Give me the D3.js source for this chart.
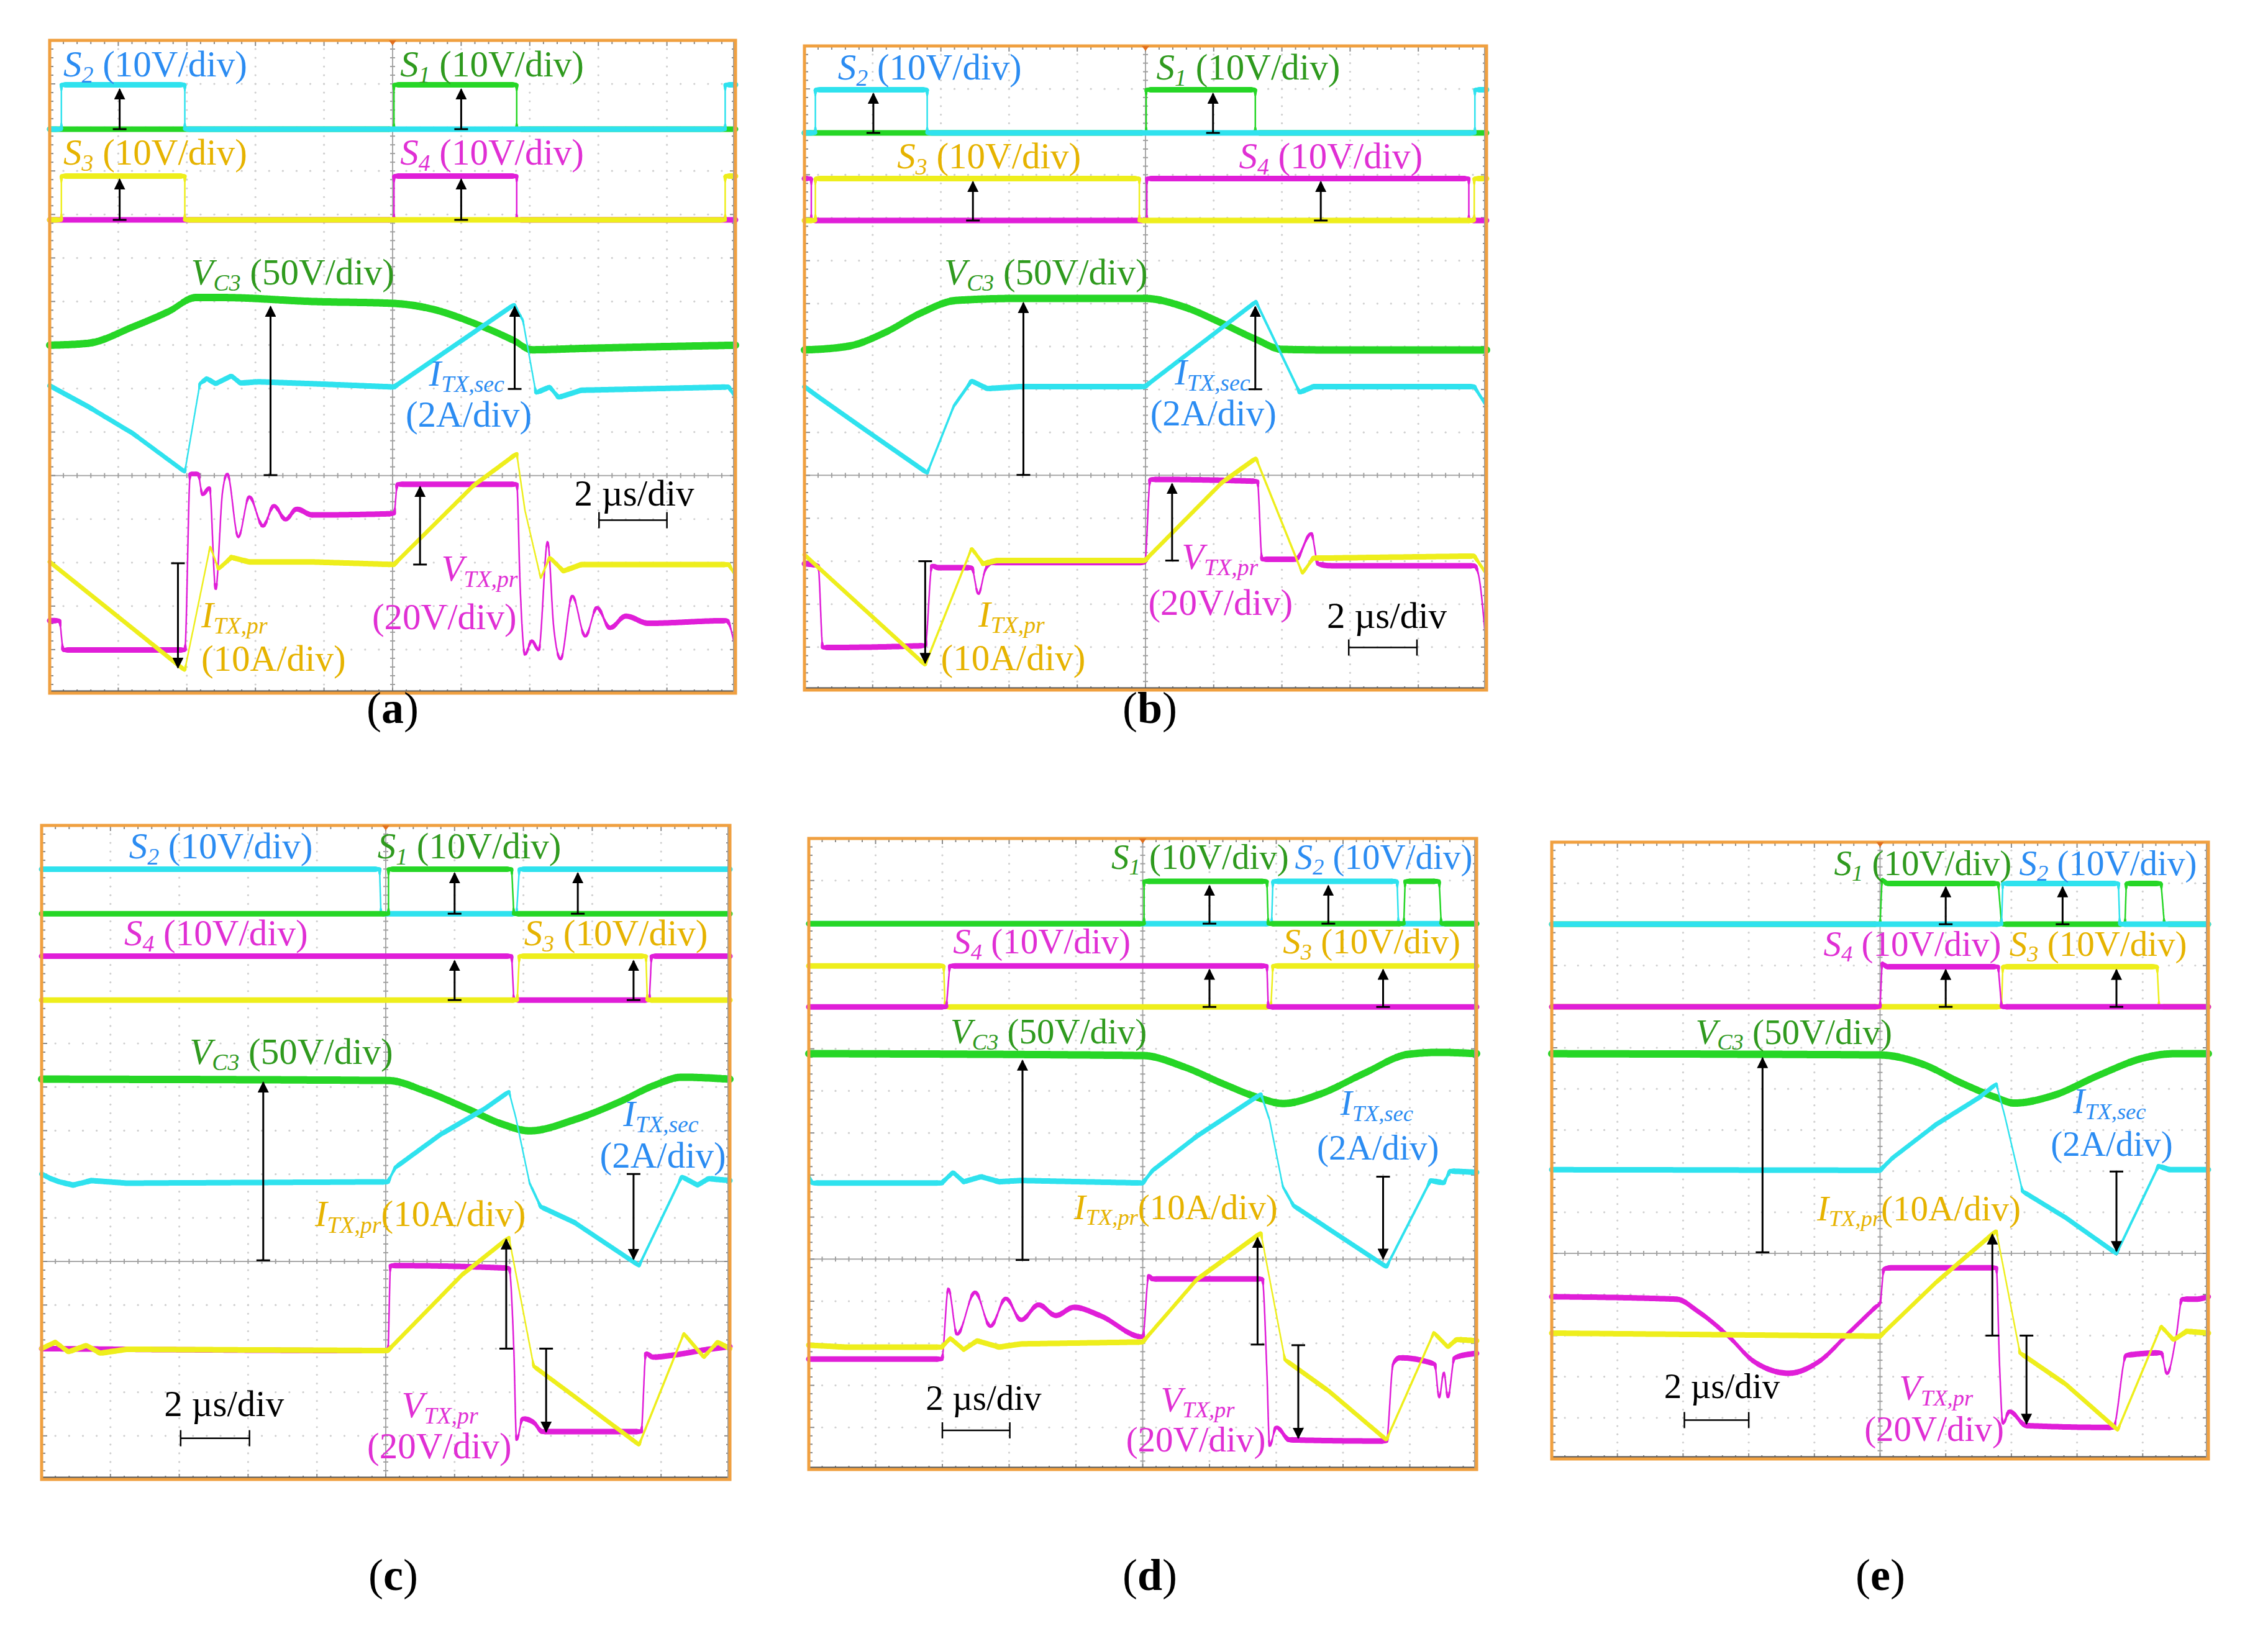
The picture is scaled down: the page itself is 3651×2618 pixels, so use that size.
<!DOCTYPE html>
<html><head><meta charset="utf-8">
<script src="https://cdn.jsdelivr.net/npm/d3@7"></script>
<style>html,body{margin:0;padding:0;background:#fff}</style>
</head><body><svg id="chart"></svg>
<script>
// ---------------- DATA (x: time in divisions 0..10, y: % of screen height from top) ----------------
// Panel (a)
const a_S2 = [[0,13.6],[0.17,13.6],[0.17,6.8],[1.97,6.8],[1.97,13.6],[9.85,13.6],[9.85,6.8],[10,6.8]];
const a_S1 = [[0,13.6],[5.02,13.6],[5.02,6.8],[6.81,6.8],[6.81,13.6],[10,13.6]];
const a_S3 = [[0,27.5],[0.17,27.5],[0.17,20.8],[1.97,20.8],[1.97,27.5],[9.85,27.5],[9.85,20.8],[10,20.8]];
const a_S4 = [[0,27.5],[5.02,27.5],[5.02,20.8],[6.81,20.8],[6.81,27.5],[10,27.5]];
const a_VC3 = [[0,46.7],[0.56,46.4],[1.21,43.9],[1.74,41.5],[2.13,39.4],[2.52,39.4],[3.83,40.0],[5.02,40.3],[5.59,41.2],[6.18,43.3],[6.77,46.0],[7.03,47.4],[7.75,47.2],[10,46.7]];
const a_ITXsec = [[0,52.9],[0.56,56.1],[1.21,60.2],[1.97,66.1],[2.19,52.6],[2.29,51.8],[2.42,52.6],[2.65,51.4],[2.78,52.5],[3.04,52.3],[3.83,52.6],[5.02,53.1],[6.77,40.5],[6.90,42.9],[7.09,54.0],[7.29,53.1],[7.42,54.7],[7.75,53.6],[9.90,53.1],[10,54.7]];
const a_VTXpr = [[0,88.9],[0.14,88.9],[0.2,93.4],[1.97,93.4],[2.05,66.4],[2.16,66.4],[2.23,69.6],[2.33,68.5],[2.42,84.1],[2.52,69.2],[2.59,66.4],[2.75,76.1],[2.91,69.9],[3.11,74.4],[3.27,71.3],[3.44,73.4],[3.60,71.8],[3.83,72.7],[5.02,72.5],[5.07,68.0],[6.81,68.0],[6.86,83.7],[6.93,94.1],[7.03,92.0],[7.13,93.4],[7.26,76.8],[7.35,90.0],[7.45,94.8],[7.62,85.1],[7.81,91.3],[7.98,86.9],[8.17,90.0],[8.40,88.2],[8.73,89.3],[9.87,88.9],[10,93.4]];
const a_ITXpr = [[0,79.9],[1.97,96.5],[2.34,77.5],[2.46,81.0],[2.65,79.2],[2.91,79.9],[3.83,79.9],[5.02,80.3],[6.18,68.2],[6.81,63.3],[6.93,72.0],[7.16,82.4],[7.29,79.2],[7.49,81.3],[7.75,80.3],[9.90,80.3],[10,82.0]];
// Panel (b)
const b_S2 = [[0,13.5],[0.16,13.5],[0.16,6.8],[1.80,6.8],[1.80,13.5],[9.83,13.5],[9.83,6.8],[10,6.8]];
const b_S1 = [[0,13.5],[5.01,13.5],[5.01,6.8],[6.61,6.8],[6.61,13.5],[10,13.5]];
const b_S3 = [[0,27.1],[0.16,27.1],[0.16,20.6],[4.91,20.6],[4.91,27.1],[9.82,27.1],[9.82,20.6],[10,20.6]];
const b_S4 = [[0,20.6],[0.1,20.6],[0.1,27.1],[5.02,27.1],[5.02,20.6],[9.74,20.6],[9.74,27.1],[10,27.1]];
const b_VC3 = [[0,47.2],[0.65,46.6],[1.18,44.5],[1.70,41.5],[2.23,39.5],[3.14,39.2],[4.99,39.2],[5.56,40.5],[6.09,42.9],[6.61,45.5],[7.0,47.1],[7.72,47.2],[10,47.2]];
const b_ITXsec = [[0,52.9],[0.26,54.9],[0.85,59.3],[1.80,66.3],[2.19,55.9],[2.45,52.0],[2.68,53.2],[3.14,52.9],[4.99,52.9],[6.62,39.7],[7.26,53.8],[7.46,52.9],[9.82,52.9],[10,55.9]];
const b_VTXpr = [[0,80.4],[0.2,80.7],[0.27,93.4],[1.77,93.1],[1.87,80.7],[1.96,81.0],[2.45,81.0],[2.55,85.1],[2.65,81.4],[2.75,80.2],[4.99,80.2],[5.07,67.3],[6.64,67.6],[6.71,79.7],[7.20,79.7],[7.43,75.7],[7.53,80.4],[7.72,80.7],[9.82,80.7],[9.88,82.0],[10,94.1]];
const b_ITXpr = [[0,79.0],[1.77,96.1],[2.45,78.0],[2.62,80.4],[2.81,79.9],[4.99,79.9],[6.12,67.8],[6.62,64.0],[7.30,81.9],[7.46,79.5],[7.72,79.5],[9.82,79.2],[10,82.0]];
// Panel (c)
const c_S2 = [[0,6.7],[4.91,6.7],[4.93,13.5],[6.90,13.5],[6.94,6.7],[10,6.7]];
const c_S1 = [[0,13.5],[5.04,13.5],[5.04,6.7],[6.83,6.7],[6.86,13.5],[10,13.5]];
const c_S4 = [[0,20.0],[6.83,20.0],[6.86,26.7],[8.83,26.7],[8.86,20.0],[10,20.0]];
const c_S3 = [[0,26.7],[6.91,26.7],[6.94,20.0],[8.78,20.0],[8.80,26.7],[10,26.7]];
const c_VC3 = [[0,38.8],[5.03,39.0],[5.59,40.7],[6.18,43.3],[6.70,45.7],[7.09,46.7],[7.74,45.0],[8.39,42.3],[8.91,39.7],[9.30,38.5],[10,38.8]];
const c_ITXsec = [[0,53.3],[0.13,54.0],[0.26,54.5],[0.46,55.0],[0.72,54.3],[1.24,54.7],[5.03,54.5],[5.14,52.3],[5.79,47.3],[6.44,43.3],[6.79,40.7],[6.89,44.7],[7.09,54.7],[7.25,58.3],[7.74,60.7],[8.68,67.3],[9.30,53.7],[9.53,55.0],[9.69,54.0],[10,54.3]];
const c_VTXpr = [[0,80.0],[5.03,80.3],[5.07,67.3],[6.79,67.7],[6.86,80.0],[6.90,94.0],[6.99,90.7],[7.15,91.3],[7.28,92.7],[8.71,92.7],[8.78,80.7],[8.88,81.3],[9.17,81.0],[9.69,80.1],[10,79.7]];
const c_ITXpr = [[0,80.0],[0.20,79.0],[0.39,80.5],[0.65,79.5],[0.85,80.7],[1.24,80.1],[5.03,80.3],[6.11,68.7],[6.79,63.0],[7.15,82.7],[7.74,87.3],[8.68,94.7],[9.33,77.7],[9.62,81.3],[9.82,79.0],[10,80.0]];
// Panel (d)
const d_S1 = [[0,13.5],[5.02,13.5],[5.02,6.8],[6.86,6.8],[6.88,13.5],[8.91,13.5],[8.93,6.8],[9.44,6.8],[9.47,13.5],[10,13.5]];
const d_S2 = [[0,13.5],[6.93,13.5],[6.95,6.8],[8.81,6.8],[8.83,13.5],[10,13.5]];
const d_S4 = [[0,26.7],[2.06,26.7],[2.11,20.2],[6.86,20.2],[6.88,26.7],[10,26.7]];
const d_S3 = [[0,20.2],[2.02,20.2],[2.04,26.7],[6.92,26.7],[6.95,20.2],[10,20.2]];
const d_VC3 = [[0,34.1],[5.0,34.4],[5.62,36.2],[6.21,38.9],[6.74,41.1],[7.10,42.0],[7.66,40.5],[8.32,37.2],[8.98,34.2],[9.44,33.9],[10,34.1]];
const d_ITXsec = [[0,53.2],[0.05,54.6],[1.99,54.6],[2.16,52.9],[2.32,54.4],[2.58,53.6],[2.85,54.4],[3.18,54.2],[5.0,54.6],[5.15,52.6],[5.81,47.2],[6.47,42.6],[6.77,40.5],[6.90,44.6],[7.10,55.2],[7.26,58.2],[7.79,61.9],[8.65,67.9],[9.31,54.2],[9.51,54.6],[9.60,52.7],[10,52.9]];
const d_VTXpr = [[0,82.5],[1.99,82.5],[2.09,71.3],[2.22,78.6],[2.49,71.9],[2.72,77.3],[2.95,72.9],[3.18,76.3],[3.44,73.9],[3.70,75.6],[3.97,74.3],[4.36,75.6],[5.0,79.0],[5.09,69.3],[5.15,69.8],[6.79,69.8],[6.86,84.6],[6.90,96.3],[7.0,93.3],[7.20,95.3],[8.65,95.5],[8.75,83.3],[8.85,82.3],[9.37,83.3],[9.44,88.6],[9.51,84.6],[9.57,88.6],[9.67,82.3],[10,81.6]];
const d_ITXpr = [[0,80.3],[0.54,80.6],[1.99,80.6],[2.12,79.2],[2.32,81.0],[2.52,79.6],[2.85,80.6],[3.18,80.1],[5.0,79.8],[5.81,69.9],[6.77,62.5],[7.13,82.6],[7.79,87.6],[8.65,95.3],[9.36,78.3],[9.57,80.6],[9.70,79.4],[10,79.6]];
// Panel (e)
const e_S1 = [[0,13.3],[5.0,13.3],[5.03,6.0],[5.1,6.7],[6.8,6.7],[6.85,13.3],[8.73,13.3],[8.75,6.7],[9.28,6.7],[9.33,13.3],[10,13.3]];
const e_S2 = [[0,13.3],[6.85,13.3],[6.87,6.7],[8.63,6.7],[8.65,13.3],[10,13.3]];
const e_S4 = [[0,26.7],[5.0,26.7],[5.03,19.6],[5.1,20.2],[6.8,20.2],[6.85,26.7],[10,26.7]];
const e_S3 = [[0,26.7],[6.85,26.7],[6.87,20.2],[9.22,20.2],[9.25,26.7],[10,26.7]];
const e_VC3 = [[0,34.3],[5.0,34.5],[5.65,36.0],[6.25,39.1],[6.77,41.4],[7.04,42.3],[7.63,41.1],[8.35,37.7],[9.01,35.0],[9.47,34.3],[10,34.3]];
const e_ITXsec = [[0,53.1],[5.0,53.2],[5.19,51.2],[5.85,45.8],[6.51,41.4],[6.77,39.2],[6.90,44.4],[7.17,56.6],[7.83,60.9],[8.60,66.7],[9.24,52.5],[9.41,53.1],[10,53.1]];
const e_VTXpr = [[0,73.7],[1.90,74.1],[2.23,76.1],[2.69,80.1],[3.08,84.2],[3.61,86.1],[4.07,84.2],[4.53,79.5],[4.93,75.4],[5.0,74.7],[5.06,69.2],[5.19,69.0],[6.77,69.0],[6.82,84.8],[6.87,94.3],[6.97,92.3],[7.23,94.6],[8.55,94.9],[8.75,83.2],[9.28,82.8],[9.37,86.2],[9.51,80.1],[9.60,74.1],[9.80,74.1],[10,73.7]];
const e_ITXpr = [[0,79.6],[5.0,80.1],[5.85,71.4],[6.77,63.0],[7.13,82.8],[7.83,87.9],[8.62,95.3],[9.28,78.5],[9.47,80.7],[9.67,79.3],[10,79.6]];

// Annotation text anchors [labelKey, x(div), y(%)]
const a_labels = [['S2',0.20,5.5],['S1',5.11,5.5],['S3',0.20,19.0],['S4',5.11,19.0],['VC3',2.06,37.4],['ITXsec',5.53,52.9],['A2',5.19,59.2],['time',7.65,71.3],['VTXpr',5.71,82.8],['V20',4.70,90.2],['ITXpr',2.21,89.9],['A10',2.21,96.6]];
const b_labels = [['S2',0.49,5.2],['S1',5.16,5.2],['S3',1.36,19.0],['S4',6.37,19.0],['VC3',2.05,37.0],['ITXsec',5.43,52.6],['A2',5.07,58.9],['VTXpr',5.53,81.2],['V20',5.04,88.3],['ITXpr',2.55,90.2],['A10',2.0,96.9],['time',7.66,90.4]];
const c_labels = [['S2',1.27,5.0],['S1',4.88,5.0],['S4',1.2,18.3],['S3',7.01,18.3],['VC3',2.15,36.5],['ITXsec',8.45,46.0],['A2',8.11,52.3],['ITXprFull',3.97,61.3],['VTXpr',5.23,90.5],['V20',4.73,96.8],['time',1.78,90.3]];
const d_labels = [['S1',4.53,4.8],['S2',7.28,4.8],['S4',2.16,18.2],['S3',7.1,18.2],['VC3',2.12,32.5],['ITXsec',7.96,43.8],['A2',7.61,50.9],['ITXprFull',3.97,60.3],['VTXpr',5.27,90.8],['V20',4.75,97.1],['time',1.75,90.6]];
const e_labels = [['S1',4.3,5.3],['S2',7.12,5.3],['S4',4.14,18.4],['S3',6.97,18.4],['VC3',2.19,32.7],['ITXsec',7.94,43.9],['A2',7.6,50.9],['ITXprFull',4.04,61.3],['VTXpr',5.29,90.4],['V20',4.76,97.1],['time',1.71,90.1]];

// Measurement arrows [x(div), yTee(%), yHead(%)]
const a_arrows = [[1.02,13.6,7.5],[6.0,13.6,7.5],[1.02,27.5,21.3],[6.0,27.5,21.3],[3.22,66.6,40.8],[6.78,53.4,40.8],[5.40,80.3,68.4],[1.87,80.1,96.1]];
const b_arrows = [[1.01,13.5,7.4],[5.99,13.5,7.4],[2.47,27.1,21.1],[7.57,27.1,21.1],[3.21,66.6,39.9],[6.61,53.3,40.5],[5.39,79.9,68.0],[1.77,80.0,95.8]];
const c_arrows = [[6.0,13.5,7.3],[7.79,13.5,7.3],[6.0,26.7,20.7],[8.6,26.7,20.7],[3.22,66.5,39.3],[8.6,53.3,66.3],[6.75,80.0,63.3],[7.33,80.0,92.7]];
const d_arrows = [[6.0,13.5,7.5],[7.78,13.5,7.5],[6.0,26.7,20.8],[8.6,26.7,20.8],[3.2,66.8,35.2],[8.6,53.6,66.6],[6.72,80.2,63.3],[7.33,80.3,95.0]];
const e_arrows = [[6.0,13.3,7.3],[7.78,13.3,7.3],[6.0,26.7,20.7],[8.6,26.7,20.7],[3.21,66.5,35.0],[8.6,53.4,66.3],[6.71,80.0,63.6],[7.23,80.0,94.3]];

// Time scale bars [x0(div), x1(div), y(%)]
const a_bar = [8.01,9.0,73.5];
const b_bar = [7.98,8.98,93.4];
const c_bar = [2.02,3.02,93.7];
const d_bar = [2.0,3.01,93.8];
const e_bar = [2.02,3.0,93.7];

const panelNames = ['a','b','c','d','e'];

// ---------------- LAYOUT / STYLE ----------------
const W = 3651, H = 2618;
const LAYOUT = {
  a: {box:[80,65,1184,1116],   cap:[632,1164],  fs:59, order:['S1','S2','S4','S3','VC3','ITXsec','VTXpr','ITXpr']},
  b: {box:[1295,74,2393,1111], cap:[1851,1164], fs:59, order:['S1','S2','S4','S3','VC3','ITXsec','VTXpr','ITXpr']},
  c: {box:[67,1329,1175,2382], cap:[633,2560],  fs:59, order:['S2','S1','S4','S3','VC3','ITXsec','VTXpr','ITXpr']},
  d: {box:[1302,1350,2377,2366], cap:[1851,2560], fs:57, order:['S2','S1','S3','S4','VC3','ITXsec','VTXpr','ITXpr']},
  e: {box:[2498,1356,3555,2349], cap:[3027,2560], fs:57, order:['S1','S2','S3','S4','VC3','ITXsec','VTXpr','ITXpr']}
};
const TR = {cyan:'#2FE2EE', green:'#26D626', yellow:'#EEEE1C', magenta:'#E01ED8'};
const LC = {blue:'#2B8CF2', green:'#2F9A1E', gold:'#E6B300', magenta:'#E02FD4', black:'#000'};
const TRACE_STYLE = {
  S1:{c:TR.green,w:9,smooth:false}, S2:{c:TR.cyan,w:9,smooth:false}, S3:{c:TR.yellow,w:9,smooth:false}, S4:{c:TR.magenta,w:9,smooth:false},
  VC3:{c:TR.green,w:12,smooth:true}, ITXsec:{c:TR.cyan,w:9,smooth:false}, VTXpr:{c:TR.magenta,w:9,smooth:true}, ITXpr:{c:TR.yellow,w:9,smooth:false}
};
const LBL = {
  S1:{c:LC.green, p:[['S','i'],['1','s'],[' (10V/div)','n']]},
  S2:{c:LC.blue, p:[['S','i'],['2','s'],[' (10V/div)','n']]},
  S3:{c:LC.gold, p:[['S','i'],['3','s'],[' (10V/div)','n']]},
  S4:{c:LC.magenta, p:[['S','i'],['4','s'],[' (10V/div)','n']]},
  VC3:{c:LC.green, p:[['V','i'],['C3','s'],[' (50V/div)','n']]},
  ITXsec:{c:LC.blue, p:[['I','i'],['TX,sec','s']]},
  A2:{c:LC.blue, p:[['(2A/div)','n']]},
  VTXpr:{c:LC.magenta, p:[['V','i'],['TX,pr','s']]},
  V20:{c:LC.magenta, p:[['(20V/div)','n']]},
  ITXpr:{c:LC.gold, p:[['I','i'],['TX,pr','s']]},
  A10:{c:LC.gold, p:[['(10A/div)','n']]},
  ITXprFull:{c:LC.gold, p:[['I','i'],['TX,pr','s'],['(10A/div)','n']]},
  time:{c:LC.black, p:[['2 \u00b5s/div','n']]}
};
const FONT = '"Liberation Serif","Times New Roman",serif';

const DATA = {};
panelNames.forEach(n => {
  DATA[n] = {
    S1: eval(n+'_S1'), S2: eval(n+'_S2'), S3: eval(n+'_S3'), S4: eval(n+'_S4'),
    VC3: eval(n+'_VC3'), ITXsec: eval(n+'_ITXsec'), VTXpr: eval(n+'_VTXpr'), ITXpr: eval(n+'_ITXpr'),
    labels: eval(n+'_labels'), arrows: eval(n+'_arrows'), bar: eval(n+'_bar')
  };
});

const svg = d3.select('#chart').attr('width', W).attr('height', H)
  .attr('viewBox', `0 0 ${W} ${H}`).style('display','block');
svg.append('rect').attr('width', W).attr('height', H).attr('fill', '#fff');

const defs = svg.append('defs');
defs.append('marker').attr('id','ahead').attr('viewBox','0 0 10 10').attr('refX',9).attr('refY',5)
  .attr('markerWidth',6).attr('markerHeight',6).attr('markerUnits','strokeWidth').attr('orient','auto')
  .append('path').attr('d','M0,0 L10,5 L0,10 Z').attr('fill','#000');

function richText(g, x, y, key, size) {
  const L = LBL[key];
  const t = g.append('text').attr('x', x).attr('y', y).attr('fill', L.c)
    .attr('font-family', FONT).attr('font-size', size).style('white-space','pre');
  let shift = 0;
  L.p.forEach(([txt, kind]) => {
    const target = kind === 's' ? 0.17*size : 0;
    const ts = t.append('tspan').text(txt).attr('dy', target - shift);
    shift = target;
    if (kind === 's') ts.attr('font-size', 0.64*size).attr('font-style','italic');
    else if (kind === 'i') ts.attr('font-style','italic');
  });
  return t;
}

// Draw a trace through d3.line (linear or monotone curve), then stroke it in runs whose
// width follows the local slope (a noise band of constant vertical height looks thin on steep edges).
function drawTrace(parent, pts, xs, ys, st) {
  const line = d3.line().x(d => xs(d[0])).y(d => ys(d[1]))
    .curve(st.smooth ? d3.curveMonotoneX : d3.curveLinear);
  const tmp = parent.append('path').attr('d', line(pts)).attr('fill','none').attr('stroke','none');
  const node = tmp.node();
  const L = node.getTotalLength();
  const S = [];
  for (let l = 0; l < L; l += 2) { const p = node.getPointAtLength(l); S.push([p.x, p.y]); }
  const pe = node.getPointAtLength(L); S.push([pe.x, pe.y]);
  tmp.remove();
  const raw = [];
  for (let i = 0; i < S.length-1; i++) {
    const dx = S[i+1][0]-S[i][0], dy = S[i+1][1]-S[i][1];
    const len = Math.hypot(dx,dy) || 1;
    raw.push(Math.max(2.6, st.w*Math.abs(dx)/len));
  }
  const K = 4;
  const widths = raw.map((_, i) => {
    let s = 0, c = 0;
    for (let j = Math.max(0, i-K); j <= Math.min(raw.length-1, i+K); j++) { s += raw[j]; c++; }
    return Math.round((s/c)*2)/2;
  });
  let start = 0;
  for (let i = 1; i <= widths.length; i++) {
    if (i === widths.length || widths[i] !== widths[start]) {
      const seg = S.slice(start, i+1);
      parent.append('path').attr('d', 'M' + seg.map(p => p[0].toFixed(1)+','+p[1].toFixed(1)).join('L'))
        .attr('fill','none').attr('stroke', st.c).attr('stroke-width', widths[start])
        .attr('stroke-linecap','round').attr('stroke-linejoin','round');
      start = i;
    }
  }
}

panelNames.forEach(n => {
  const lay = LAYOUT[n], D = DATA[n];
  const [x0,y0,x1,y1] = lay.box;
  const xs = d3.scaleLinear().domain([0,10]).range([x0,x1]);
  const ys = d3.scaleLinear().domain([0,100]).range([y0,y1]);
  const g = svg.append('g').attr('class','panel-'+n);

  g.append('rect').attr('x',x0).attr('y',y0).attr('width',x1-x0).attr('height',y1-y0).attr('fill','#fff');

  const rowStep = 100/15;
  const minorX = d3.range(0, 10.001, 0.2);
  const minorY = d3.range(0, 100.001, rowStep/5);
  const gridG = g.append('g');
  for (let c = 1; c < 10; c++) {
    if (c === 5) continue;
    minorY.forEach(yv => gridG.append('circle').attr('cx', xs(c)).attr('cy', ys(yv)).attr('r',1.6).attr('fill','#cfcfcf'));
  }
  for (let r = 1; r < 15; r++) {
    if (r === 10) continue;
    minorX.forEach(xv => gridG.append('circle').attr('cx', xs(xv)).attr('cy', ys(r*rowStep)).attr('r',1.6).attr('fill','#cfcfcf'));
  }
  gridG.append('line').attr('x1', xs(5)).attr('x2', xs(5)).attr('y1', y0).attr('y2', y1).attr('stroke','#a8a8a8').attr('stroke-width',2);
  gridG.append('line').attr('x1', x0).attr('x2', x1).attr('y1', ys(10*rowStep)).attr('y2', ys(10*rowStep)).attr('stroke','#a8a8a8').attr('stroke-width',2);
  minorX.forEach((xv,i) => {
    const len = i%5===0 ? 9 : 6;
    gridG.append('line').attr('x1',xs(xv)).attr('x2',xs(xv)).attr('y1',y0).attr('y2',y0+len).attr('stroke','#8a8a8a').attr('stroke-width',2);
    gridG.append('line').attr('x1',xs(xv)).attr('x2',xs(xv)).attr('y1',y1).attr('y2',y1-len).attr('stroke','#8a8a8a').attr('stroke-width',2);
    gridG.append('line').attr('x1',xs(xv)).attr('x2',xs(xv)).attr('y1',ys(10*rowStep)-4).attr('y2',ys(10*rowStep)+4).attr('stroke','#a0a0a0').attr('stroke-width',2);
  });
  minorY.forEach((yv,i) => {
    const len = i%5===0 ? 9 : 6;
    gridG.append('line').attr('x1',x0).attr('x2',x0+len).attr('y1',ys(yv)).attr('y2',ys(yv)).attr('stroke','#8a8a8a').attr('stroke-width',2);
    gridG.append('line').attr('x1',x1).attr('x2',x1-len).attr('y1',ys(yv)).attr('y2',ys(yv)).attr('stroke','#8a8a8a').attr('stroke-width',2);
    gridG.append('line').attr('x1',xs(5)-4).attr('x2',xs(5)+4).attr('y1',ys(yv)).attr('y2',ys(yv)).attr('stroke','#a0a0a0').attr('stroke-width',2);
  });

  lay.order.forEach(key => {
    const tg = g.append('g').attr('class','trace-'+key);
    drawTrace(tg, D[key], xs, ys, TRACE_STYLE[key]);
  });

  D.arrows.forEach(([xv, yt, yh]) => {
    const X = xs(xv), Yt = ys(yt), Yh = ys(yh);
    g.append('line').attr('x1',X).attr('x2',X).attr('y1',Yt).attr('y2',Yh)
      .attr('stroke','#000').attr('stroke-width',3).attr('marker-end','url(#ahead)');
    g.append('line').attr('x1',X-11).attr('x2',X+11).attr('y1',Yt).attr('y2',Yt)
      .attr('stroke','#000').attr('stroke-width',3);
  });

  const [b0,b1,by] = D.bar;
  g.append('line').attr('x1',xs(b0)).attr('x2',xs(b1)).attr('y1',ys(by)).attr('y2',ys(by)).attr('stroke','#000').attr('stroke-width',2.5);
  [b0,b1].forEach(bx => g.append('line').attr('x1',xs(bx)).attr('x2',xs(bx)).attr('y1',ys(by)-13).attr('y2',ys(by)+13).attr('stroke','#000').attr('stroke-width',2.5));

  D.labels.forEach(([key,xv,yv]) => richText(g, xs(xv), ys(yv), key, lay.fs));

  g.append('line').attr('x1',x0).attr('x2',x1).attr('y1',y1-3).attr('y2',y1-3).attr('stroke','#5a5a5a').attr('stroke-width',3);
  g.append('line').attr('x1',x1-3).attr('x2',x1-3).attr('y1',y0).attr('y2',y1).attr('stroke','#9a9a9a').attr('stroke-width',2);
  g.append('rect').attr('x',x0).attr('y',y0).attr('width',x1-x0).attr('height',y1-y0)
    .attr('fill','none').attr('stroke','#F0A040').attr('stroke-width',5);
  g.append('path').attr('d',`M${xs(5)-6},${y0} L${xs(5)+6},${y0} L${xs(5)},${y0+8} Z`).attr('fill','#E07020');

  const cap = svg.append('text').attr('x', lay.cap[0]).attr('y', lay.cap[1]).attr('text-anchor','middle')
    .attr('font-family', FONT).attr('font-size', 72).attr('fill','#000');
  cap.append('tspan').text('(');
  cap.append('tspan').text(n).attr('font-weight','bold');
  cap.append('tspan').text(')');
});
</script></body></html>
